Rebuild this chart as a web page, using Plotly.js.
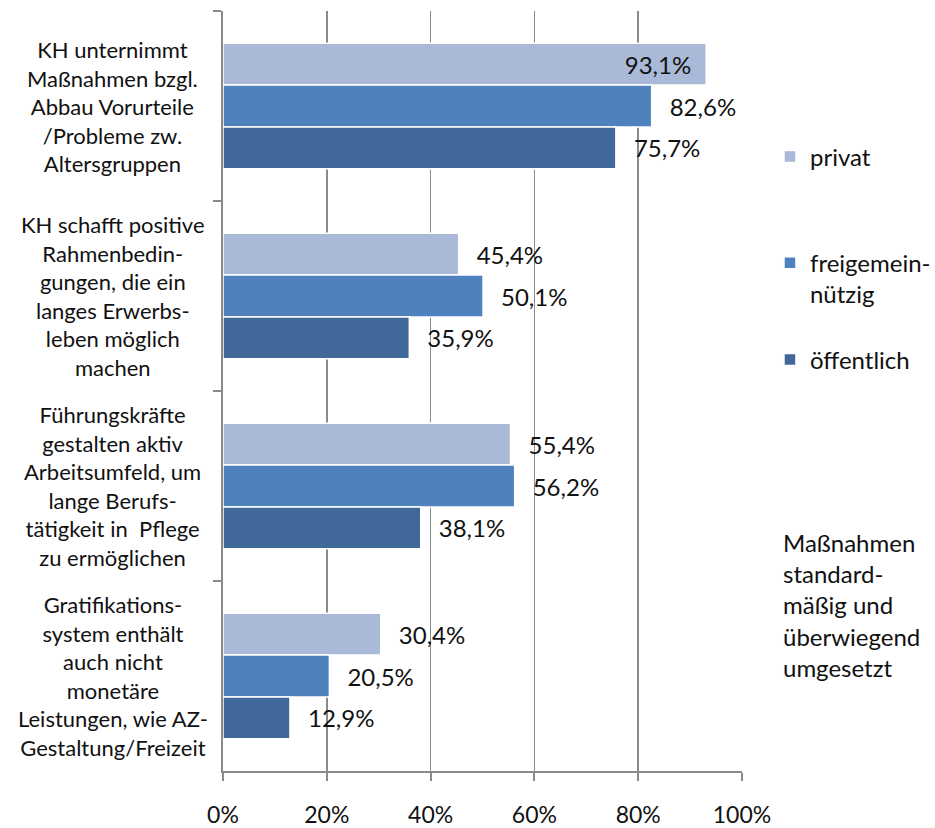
<!DOCTYPE html>
<html>
<head>
<meta charset="utf-8">
<script src="https://cdn.plot.ly/plotly-3.0.1.min.js"></script>
<style>html,body{margin:0;padding:0;background:#fff;}#chart{width:935px;height:828px;}</style>
</head>
<body>
<div id="chart"></div>
<script>
// ---- data ----
const categories = [
  "KH unternimmt<br>Maßnahmen bzgl.<br>Abbau Vorurteile<br>/Probleme zw.<br>Altersgruppen",
  "KH schafft positive<br>Rahmenbedin-<br>gungen, die ein<br>langes Erwerbs-<br>leben möglich<br>machen",
  "Führungskräfte<br>gestalten aktiv<br>Arbeitsumfeld, um<br>lange Berufs-<br>tätigkeit in  Pflege<br>zu ermöglichen",
  "Gratifikations-<br>system enthält<br>auch nicht<br>monetäre<br>Leistungen, wie AZ-<br>Gestaltung/Freizeit"
];
const seriesNames = ["privat", "freigemein-<br>nützig", "öffentlich"];
const privat = [93.1, 45.4, 55.4, 30.4];
const freigemein = [82.6, 50.1, 56.2, 20.5];
const oeffentlich = [75.7, 35.9, 38.1, 12.9];
const xTicks = [0, 20, 40, 60, 80, 100];
const xTickLabels = ["0%", "20%", "40%", "60%", "80%", "100%"];
const sideNote = "Maßnahmen<br>standard-<br>mäßig und<br>überwiegend<br>umgesetzt";

const colors = ["#AAB9D7", "#4F81BD", "#40699A"];
const FONT = "Lato, 'Open Sans', sans-serif";
const seriesValues = [privat, freigemein, oeffentlich];
const legendIds = ["legend", "legend2", "legend3"];

const traces = seriesValues.map((vals, i) => ({
  type: "bar",
  orientation: "h",
  name: seriesNames[i],
  y: categories,
  x: vals,
  legend: legendIds[i],
  marker: {color: colors[i], line: {color: "#ffffff", width: 1.5}},
  texttemplate: vals.map(v => v >= 90 ? "%{x:.1f}%\u2002" : "\u2002\u2009%{x:.1f}%"),
  textposition: vals.map(v => v >= 90 ? "inside" : "outside"),
  insidetextanchor: "end",
  constraintext: "none",
  cliponaxis: false,
  insidetextfont: {family: FONT, size: 24, color: "#111"},
  outsidetextfont: {family: FONT, size: 24, color: "#111"},
  hoverinfo: "skip"
}));

const legendBase = {
  xref: "container", yref: "container",
  x: 0.8235, xanchor: "left", yanchor: "middle",
  font: {family: FONT, size: 24, color: "#111"},
  bgcolor: "rgba(0,0,0,0)", valign: "top"
};

const annotations = categories.map(c => ({
  xref: "paper", yref: "y", x: -0.2124, y: c, xanchor: "center", yanchor: "middle",
  text: c, showarrow: false, align: "center",
  font: {family: FONT, size: 22, color: "#111"}
}));
annotations.push({
  xref: "paper", yref: "paper", x: 1.076, y: 0.218, xanchor: "left", yanchor: "middle",
  text: sideNote, showarrow: false, align: "left",
  font: {family: FONT, size: 24, color: "#111"}
});

const layout = {
  width: 935, height: 828,
  margin: {l: 223, r: 193, t: 11, b: 57, autoexpand: false},
  paper_bgcolor: "#fff", plot_bgcolor: "#fff",
  separators: ",.",
  barmode: "group", bargap: 0.34, bargroupgap: 0,
  font: {family: FONT, size: 20, color: "#111"},
  showlegend: true,
  legend: Object.assign({}, legendBase, {y: 0.8104}),
  legend2: Object.assign({}, legendBase, {y: 0.6636}),
  legend3: Object.assign({}, legendBase, {y: 0.5652}),
  xaxis: {
    range: [0, 100], tickmode: "array", tickvals: xTicks, ticktext: xTickLabels,
    showgrid: true, gridcolor: "#8a8a8a", gridwidth: 1.5,
    showline: true, linecolor: "#8a8a8a", linewidth: 2,
    ticks: "outside", ticklen: 8, tickcolor: "#8a8a8a", tickwidth: 2,
    ticklabelstandoff: 14, zeroline: false,
    tickfont: {family: FONT, size: 23, color: "#111"}
  },
  yaxis: {
    type: "category", categoryorder: "array", categoryarray: categories,
    autorange: "reversed", showgrid: false, zeroline: false,
    showline: true, linecolor: "#8a8a8a", linewidth: 2,
    ticks: "outside", ticklen: 8, tickcolor: "#8a8a8a", tickwidth: 2,
    tickson: "boundaries", showticklabels: false
  },
  annotations: annotations
};

Plotly.newPlot("chart", traces, layout, {displayModeBar: false, staticPlot: true});
</script>
</body>
</html>
